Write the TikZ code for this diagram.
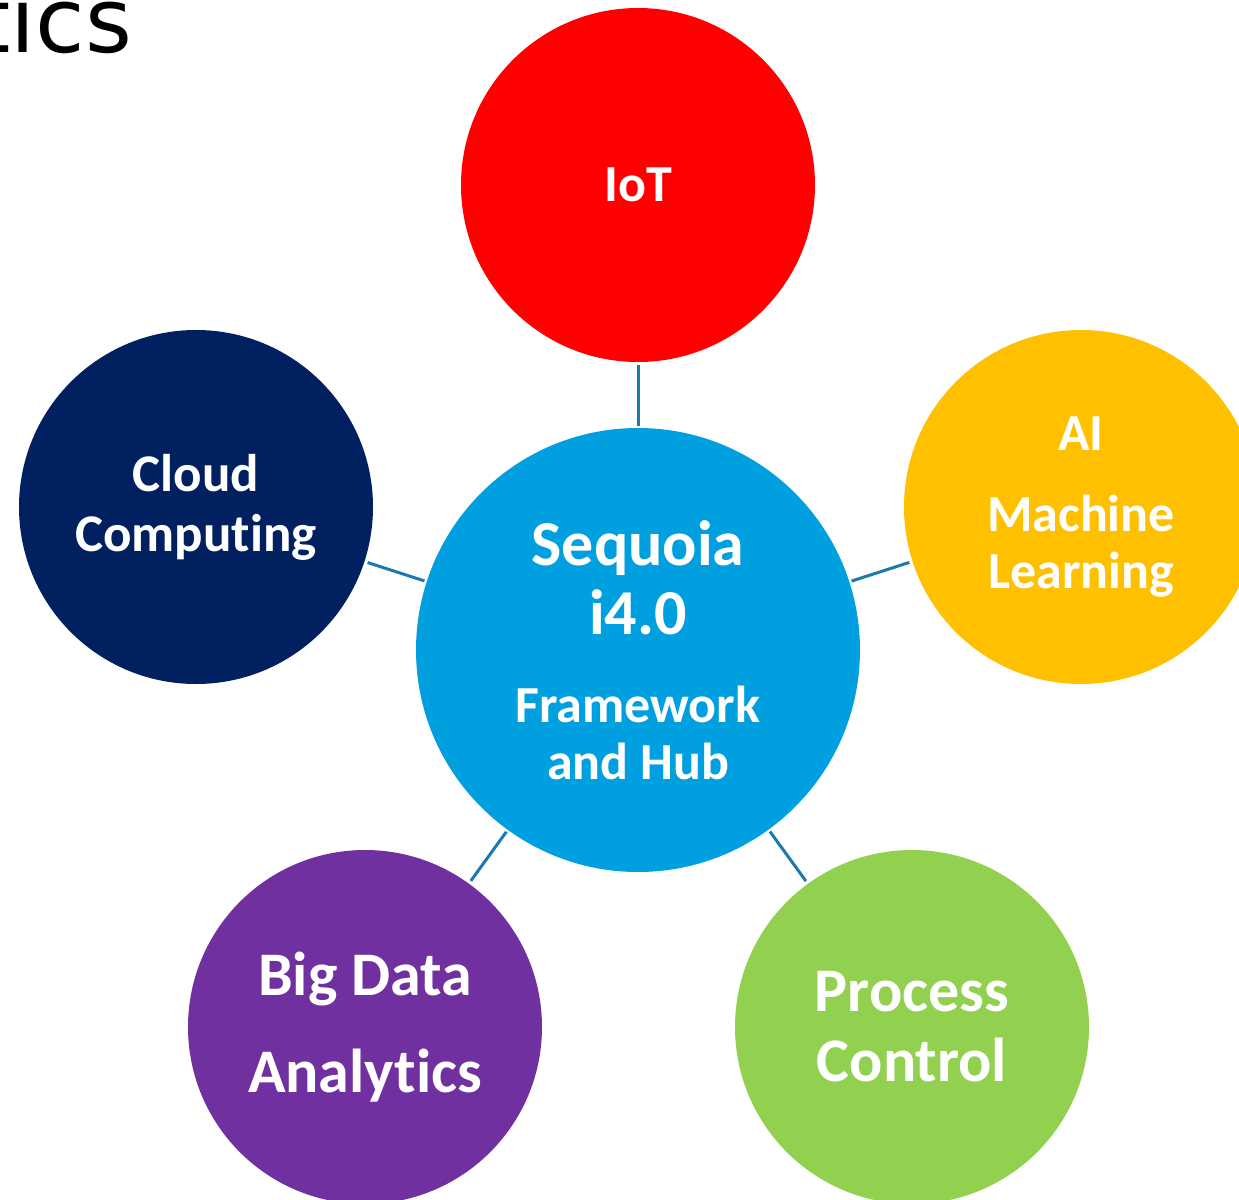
\documentclass[tikz,border=0pt]{standalone}
\usepackage{fontspec}
\setmainfont{Carlito}[Ligatures=NoCommon]
\newfontfamily\titlefont{DejaVu Sans}
\usepackage{xcolor}
\usepackage{tikz}

\definecolor{iotred}{HTML}{FF0000}
\definecolor{cloudnavy}{HTML}{002060}
\definecolor{hubblue}{HTML}{009FE0}
\definecolor{aiyellow}{HTML}{FFC000}
\definecolor{datapurple}{HTML}{7030A0}
\definecolor{procgreen}{HTML}{92D050}
\definecolor{linkblue}{HTML}{1A7AB0}

\tikzset{
  topic/.style={circle, minimum size=177pt, inner sep=0pt, text=white, align=center},
  link/.style={draw=linkblue, line width=1.5pt, shorten <=1.5pt, shorten >=1pt}
}

\begin{document}
\begin{tikzpicture}[x=0.5pt, y=-0.5pt]
\useasboundingbox (0,0) rectangle (1239,1200);

\node[anchor=base east, font=\fontsize{45pt}{48pt}\titlefont] (title) at (139,52) {tics};

\node[topic, minimum size=222pt, fill=hubblue, font=\fontsize{26pt}{28.5pt}\selectfont\bfseries] (hub) at (638,650)
  {{\fontsize{32pt}{34pt}\selectfont Sequoia}\\[6pt]{\fontsize{32pt}{34pt}\selectfont i4.0}\\[15.5pt]Framework\\and Hub};

\node[topic, fill=iotred, font=\fontsize{26pt}{30pt}\selectfont\bfseries] (iot) at (638,185) {IoT};
\node[topic, fill=cloudnavy, font=\fontsize{26.5pt}{30pt}\selectfont\bfseries] (cloud) at (196,507) {Cloud\\Computing};
\node[topic, fill=aiyellow, font=\fontsize{26pt}{28.5pt}\selectfont\bfseries] (ai) at (1081,507) {AI\\[12pt]Machine\\Learning};
\node[topic, fill=datapurple, font=\fontsize{31pt}{34pt}\selectfont\bfseries] (data) at (365,1027) {Big Data\\[14.5pt]Analytics};
\node[topic, fill=procgreen, font=\fontsize{31pt}{35pt}\selectfont\bfseries] (proc) at (912,1027) {Process\\Control};

% spokes
\draw[link] (iot) -- (hub);
\draw[link] (cloud) -- (hub);
\draw[link] (ai) -- (hub);
\draw[link] (data) -- (hub);
\draw[link] (proc) -- (hub);
\end{tikzpicture}
\end{document}
